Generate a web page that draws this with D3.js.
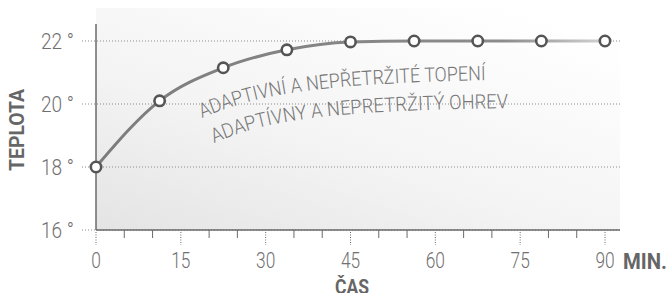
<!DOCTYPE html>
<html>
<head>
<meta charset="utf-8">
<script src="https://cdn.jsdelivr.net/npm/d3@7"></script>
<style>
  body { margin: 0; background: #fff; }
  svg { display: block; font-family: "Roboto", "Liberation Sans", sans-serif; }
</style>
</head>
<body>
<div id="main"></div>
<script>
// data
const minutes = [0, 11.25, 22.5, 33.75, 45, 56.25, 67.5, 78.75, 90];
const temps = [18, 20.1, 21.15, 21.72, 21.97, 22, 22, 22, 22];
const yTicks = [16, 18, 20, 22];
const xTicks = [0, 15, 30, 45, 60, 75, 90];
const minorTicks = [5, 10, 20, 25, 35, 40, 50, 55, 65, 70, 80, 85];
const labelCz = 'ADAPTIVNÍ A NEPŘETRŽITÉ TOPENÍ';
const labelSk = 'ADAPTÍVNY A NEPRETRŽITÝ OHREV';

const w = 668;
const h = 293;
const digitW = 9.6;

const x = d3.scaleLinear().domain([0, 90]).range([96, 605]);
const y = d3.scaleLinear().domain([16, 22]).range([230, 41]);

const svg = d3.select('#main')
    .append('svg')
    .attr('width', w)
    .attr('height', h);

const defs = svg.append('defs');

const bg = defs.append('linearGradient')
    .attr('id', 'bg')
    .attr('x1', 0).attr('y1', 1).attr('x2', 0.8).attr('y2', 0);
bg.append('stop').attr('offset', 0).attr('stop-color', '#e4e4e4');
bg.append('stop').attr('offset', 0.45).attr('stop-color', '#f4f4f4');
bg.append('stop').attr('offset', 1).attr('stop-color', '#ffffff');

const lineGrad = defs.append('linearGradient')
    .attr('id', 'lineGrad')
    .attr('gradientUnits', 'userSpaceOnUse')
    .attr('x1', x(0)).attr('x2', x(90)).attr('y1', 0).attr('y2', 0);
lineGrad.append('stop').attr('offset', 0).attr('stop-color', '#7c7c7c');
lineGrad.append('stop').attr('offset', 0.8).attr('stop-color', '#8c8c8c');
lineGrad.append('stop').attr('offset', 1).attr('stop-color', '#d2d2d2');

// plot panel
svg.append('rect')
    .attr('x', x(0))
    .attr('y', 8)
    .attr('width', 620 - x(0))
    .attr('height', y(16) - 8)
    .attr('fill', 'url(#bg)');

// grid
svg.append('g')
    .selectAll('line')
    .data(yTicks)
    .enter()
    .append('line')
    .attr('x1', 82)
    .attr('x2', 620)
    .attr('y1', d => y(d))
    .attr('y2', d => y(d))
    .attr('stroke', '#8a8a8a')
    .attr('stroke-width', 1)
    .attr('stroke-dasharray', '1,2');

// y labels
svg.append('g')
    .selectAll('text')
    .data(yTicks)
    .enter()
    .append('text')
    .attr('x', 41)
    .attr('y', d => y(d) + 8)
    .attr('textLength', 33)
    .attr('lengthAdjust', 'spacingAndGlyphs')
    .attr('fill', '#707070')
    .style('font-size', '22px')
    .style('font-weight', 300)
    .text(d => d + ' °');

// axes lines
svg.append('line')
    .attr('x1', x(0)).attr('x2', x(0))
    .attr('y1', 24).attr('y2', y(16))
    .attr('stroke', '#6a6a6a').attr('stroke-width', 1.5);
svg.append('line')
    .attr('x1', x(0)).attr('x2', 620)
    .attr('y1', y(16)).attr('y2', y(16))
    .attr('stroke', '#6a6a6a').attr('stroke-width', 1.5);

// x ticks
svg.append('g')
    .selectAll('line')
    .data(minorTicks)
    .enter()
    .append('line')
    .attr('x1', d => x(d)).attr('x2', d => x(d))
    .attr('y1', y(16)).attr('y2', y(16) + 8)
    .attr('stroke', '#6a6a6a').attr('stroke-width', 1);
svg.append('g')
    .selectAll('line')
    .data(xTicks)
    .enter()
    .append('line')
    .attr('x1', d => x(d)).attr('x2', d => x(d))
    .attr('y1', y(16) + 2).attr('y2', y(16) + 15)
    .attr('stroke', '#6a6a6a').attr('stroke-width', 1)
    .attr('stroke-dasharray', '1,1.5');

svg.append('g')
    .selectAll('text')
    .data(xTicks)
    .enter()
    .append('text')
    .attr('x', d => x(d) - String(d).length * digitW / 2)
    .attr('y', 268)
    .attr('textLength', d => String(d).length * digitW)
    .attr('lengthAdjust', 'spacingAndGlyphs')
    .attr('fill', '#707070')
    .style('font-size', '22px')
    .style('font-weight', 300)
    .text(d => d);

// axis titles
svg.append('text')
    .attr('x', 623).attr('y', 269)
    .attr('fill', '#666')
    .attr('textLength', 44)
    .attr('lengthAdjust', 'spacingAndGlyphs')
    .style('font-size', '22px')
    .style('font-weight', 'bold')
    .text('MIN.');
svg.append('text')
    .attr('x', 335).attr('y', 294)
    .attr('fill', '#666')
    .attr('textLength', 34)
    .attr('lengthAdjust', 'spacingAndGlyphs')
    .style('font-size', '21px')
    .style('font-weight', 'bold')
    .text('ČAS');
svg.append('text')
    .attr('transform', 'translate(24,171) rotate(-90)')
    .attr('fill', '#666')
    .attr('textLength', 82)
    .attr('lengthAdjust', 'spacingAndGlyphs')
    .style('font-size', '20px')
    .style('font-weight', 'bold')
    .text('TEPLOTA');

// curved labels
defs.append('path').attr('id', 'arc1').attr('d', 'M202,118 C250,98 300,83 500,80');
defs.append('path').attr('id', 'arc2').attr('d', 'M214,143 C262,123 310,110 525,108');
[['#arc1', labelCz, 288], ['#arc2', labelSk, 298]].forEach(([id, t, len]) => {
    svg.append('text')
        .attr('fill', '#777')
        .style('font-size', '20px')
        .style('font-weight', 300)
        .append('textPath')
        .attr('href', id)
        .attr('textLength', len)
        .attr('lengthAdjust', 'spacingAndGlyphs')
        .text(t);
});

// line
const pts = minutes.map((m, i) => [m, temps[i]]);
svg.append('path')
    .datum(pts)
    .attr('d', d3.line().x(d => x(d[0])).y(d => y(d[1])).curve(d3.curveMonotoneX))
    .attr('fill', 'none')
    .attr('stroke', 'url(#lineGrad)')
    .attr('stroke-width', 3);

svg.append('g')
    .selectAll('circle')
    .data(pts)
    .enter()
    .append('circle')
    .attr('cx', d => x(d[0]))
    .attr('cy', d => y(d[1]))
    .attr('r', 5.2)
    .attr('fill', '#fff')
    .attr('stroke', '#555')
    .attr('stroke-width', 2.6);
</script>
</body>
</html>
